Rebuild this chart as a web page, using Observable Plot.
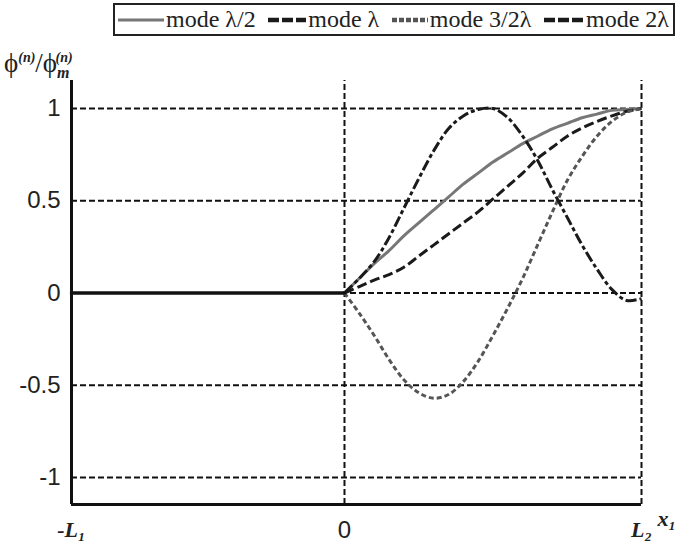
<!DOCTYPE html>
<html>
<head>
<meta charset="utf-8">
<script src="https://cdn.jsdelivr.net/npm/d3@7"></script>
<script src="https://cdn.jsdelivr.net/npm/@observablehq/plot@0.6"></script>
<style>
  body { margin: 0; background: #fff; }
  #wrap { position: relative; width: 678px; height: 544px; overflow: hidden; background:#fff; }
  #legend { position: absolute; left: 113px; top: 3px; width: 558px; height: 29px; border: 2px solid #222;
    font-family: 'Liberation Serif', 'Times New Roman', Times, serif; font-size: 24px; color: #222;
    display: flex; align-items: center; justify-content: space-between; white-space: nowrap; box-sizing: content-box; }
  #legend .item { display: flex; align-items: center; margin-left: 3px; margin-right: 4px; }
  #legend span { font-family: 'Liberation Serif', serif; }
  #legend svg { margin-right: 2px; }
  #ylabel { position: absolute; left: 4px; top: 42px; font-family: 'Liberation Serif', serif; font-size: 27px; color:#222; }
  #ylabel i { font-weight: bold; font-size: 14px; }
  #chart { position: absolute; left: 0; top: 76px; }
</style>
</head>
<body>
<div id="wrap">
  <div id="legend"></div>
  <div id="ylabel">ϕ<sup><i>(n)</i></sup>/ϕ<sub><i style="font-size:16px">m</i></sub><sup style="margin-left:-14px"><i>(n)</i></sup></div>
  <div id="chart"></div>
</div>
<script>
// ---- data ----
const L1 = 1;
const L2 = 1.088;
const modeNames = ["mode λ/2", "mode λ", "mode 3/2λ", "mode 2λ"];
// fraction of L2 along the right part
const tFrac = [0,0.05,0.1,0.15,0.2,0.25,0.3,0.35,0.4,0.45,0.5,0.55,0.6,0.65,0.7,0.75,0.8,0.85,0.9,0.95,1];
const modeHalf   = [0,0.08,0.16,0.23,0.31,0.38,0.45,0.52,0.59,0.65,0.71,0.76,0.81,0.85,0.89,0.92,0.95,0.97,0.99,0.995,1];
const modeOne    = [0,0.035,0.07,0.10,0.14,0.20,0.26,0.32,0.38,0.44,0.51,0.58,0.65,0.73,0.79,0.85,0.895,0.93,0.96,0.985,1];
const modeThreeHalf = [0,-0.11,-0.23,-0.36,-0.47,-0.54,-0.57,-0.55,-0.48,-0.37,-0.23,-0.08,0.08,0.26,0.44,0.61,0.74,0.85,0.93,0.98,1];
const modeTwo    = [0,0.08,0.17,0.30,0.46,0.62,0.77,0.89,0.96,0.995,1.0,0.95,0.85,0.72,0.56,0.41,0.26,0.13,0.02,-0.04,-0.03];
const leftX = [-L1, 0];
const leftY = [0, 0];
const yTicks = [1, 0.5, 0, -0.5, -1];
const yTickLabels = ["1", "0.5", "0", "-0.5", "-1"];
const xTicks = [-L1, 0, L2];
const xTickLabels = ["-L₁", "0", "L₂"];
const xLabel = "x₁";

// ---- styles ----
const styles = [
  {stroke: "#777777", dash: null, width: 3},
  {stroke: "#1a1a1a", dash: "10,4", width: 3},
  {stroke: "#555555", dash: "5,3", width: 3},
  {stroke: "#1a1a1a", dash: "11,3,4,3", width: 3}
];
const series = [modeHalf, modeOne, modeThreeHalf, modeTwo];
const rows = [];
series.forEach((vals, i) => vals.forEach((v, j) => rows.push({mode: modeNames[i], x: tFrac[j] * L2, y: v})));

const yMin = -1.146, yMax = 1.152;
const grid = {stroke: "#111", strokeDasharray: "6,3", strokeWidth: 2};

const chart = Plot.plot({
  width: 678, height: 468,
  marginLeft: 71, marginRight: 37, marginTop: 4, marginBottom: 40,
  x: {domain: [-L1, L2], axis: null},
  y: {domain: [yMin, yMax], axis: null},
  marks: [
    Plot.ruleY(yTicks, {x1: -L1, x2: L2, ...grid}),
    Plot.ruleX([0, L2], {y1: yMin, y2: yMax, ...grid}),
    Plot.ruleX([-L1], {y1: yMin, y2: yMax, stroke: "#111", strokeWidth: 3}),
    Plot.ruleY([yMin], {x1: -L1, x2: L2, stroke: "#111", strokeWidth: 3}),
    ...modeNames.map((m, i) => Plot.line(rows.filter(r => r.mode === m), {
      x: "x", y: "y", curve: "catmull-rom",
      stroke: styles[i].stroke, strokeWidth: styles[i].width,
      strokeDasharray: styles[i].dash || undefined,
      strokeLinecap: "butt"
    })),
    Plot.line(leftX.map((x, i) => ({x, y: leftY[i]})), {x: "x", y: "y", stroke: "#111", strokeWidth: 3.5}),
    Plot.text(yTicks, {x: -L1, y: d => d, text: (d, i) => yTickLabels[i], textAnchor: "end", dx: -11,
      fontSize: 24, fontFamily: "Liberation Sans, Arial, sans-serif", fill: "#222"}),
    Plot.text(xTicks.filter((d, i) => xTickLabels[i] === "0"), {x: d => d, y: yMin, text: ["0"], dy: 26,
      fontSize: 24, fontFamily: "Liberation Sans, Arial, sans-serif", fill: "#222"}),
    Plot.text(xTicks.filter((d, i) => xTickLabels[i] !== "0"), {x: d => d, y: yMin,
      text: xTickLabels.filter(t => t !== "0"), dy: 25,
      fontSize: 22, fontFamily: "Liberation Serif, serif", fontStyle: "italic", fontWeight: "bold", fill: "#222"}),
    Plot.text([xLabel], {x: L2, y: yMin, text: d => d, textAnchor: "start", dx: 16, dy: 14,
      fontSize: 22, fontFamily: "Liberation Serif, serif", fontStyle: "italic", fontWeight: "bold", fill: "#222"})
  ]
});
document.getElementById("chart").appendChild(chart);

// ---- legend ----
const legend = document.getElementById("legend");
const swW = [46, 38, 36, 40];
modeNames.forEach((m, i) => {
  const item = document.createElement("div");
  item.className = "item";
  const s = styles[i];
  item.innerHTML = `<svg width="${swW[i]}" height="10"><line x1="0" y1="5" x2="${swW[i]}" y2="5" stroke="${s.stroke}" stroke-width="${i === 0 ? 3 : 4.5}" ${s.dash ? `stroke-dasharray="${i===2 ? '5,2' : '11,3'}"` : ""}/></svg><span>${m}</span>`;
  legend.appendChild(item);
});
</script>
</body>
</html>
